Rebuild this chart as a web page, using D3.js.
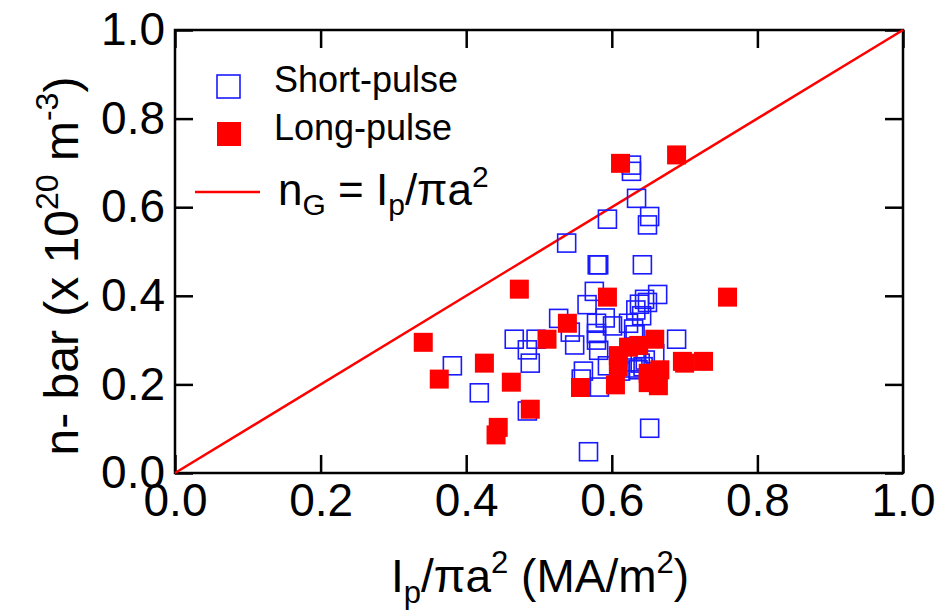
<!DOCTYPE html>
<html>
<head>
<meta charset="utf-8">
<script src="https://cdn.jsdelivr.net/npm/d3@7"></script>
<style>
  html, body { margin: 0; padding: 0; background: #fff; }
  svg { display: block; }
  text { font-family: "Liberation Sans", Arial, Helvetica, sans-serif; fill: #000; }
</style>
</head>
<body>
<svg id="chart" width="940" height="613"></svg>
<script>
// ---- data ----
const shortX = [0.381,0.418,0.466,0.496,0.484,0.488,0.484,0.527,0.538,0.549,0.568,0.652,
  0.627,0.627,0.634,0.652,0.649,0.594,0.580,0.582,0.642,0.576,0.566,0.663,0.645,0.649,
  0.638,0.633,0.591,0.623,0.641,0.601,0.543,0.579,0.579,0.582,0.630,0.689,0.632,0.579,
  0.561,0.558,0.583,0.594,0.612,0.632,0.639,0.643,0.636,0.646,0.629,0.659];
const shortY = [0.242,0.181,0.302,0.302,0.278,0.248,0.140,0.349,0.519,0.289,0.048,0.101,
  0.695,0.681,0.620,0.579,0.560,0.573,0.470,0.470,0.470,0.410,0.380,0.403,0.392,0.385,
  0.381,0.368,0.350,0.338,0.355,0.332,0.318,0.315,0.300,0.277,0.325,0.302,0.312,0.338,
  0.230,0.212,0.194,0.242,0.230,0.251,0.248,0.240,0.233,0.255,0.237,0.269];
const longX = [0.341,0.363,0.425,0.462,0.488,0.444,0.441,0.473,0.511,0.539,0.557,0.612,
  0.689,0.594,0.759,0.659,0.637,0.623,0.609,0.609,0.605,0.666,0.650,0.650,0.664,0.697,
  0.700,0.726];
const longY = [0.295,0.212,0.248,0.205,0.144,0.103,0.086,0.415,0.302,0.338,0.193,0.699,
  0.718,0.397,0.397,0.302,0.288,0.284,0.265,0.240,0.199,0.233,0.225,0.204,0.197,0.252,
  0.248,0.252];
const xTicks = [0.0,0.2,0.4,0.6,0.8,1.0];
const yTicks = [0.0,0.2,0.4,0.6,0.8,1.0];
const greenwald = [[0,0],[1,1]];

// ---- layout ----
const L = 175, R = 903, T = 30, B = 473;
const svg = d3.select("#chart");
const x = d3.scaleLinear().domain([0,1]).range([L,R]);
const y = d3.scaleLinear().domain([0,1]).range([B,T]);
const tickLen = 18, fs = 46;

// axes
const fmt = d3.format(".1f");
const gx = svg.append("g").attr("transform",`translate(0,${B})`)
  .call(d3.axisBottom(x).tickValues(xTicks).tickSizeInner(-tickLen).tickSizeOuter(0).tickPadding(10).tickFormat(fmt));
const gy = svg.append("g").attr("transform",`translate(${L},0)`)
  .call(d3.axisLeft(y).tickValues(yTicks).tickSizeInner(-tickLen).tickSizeOuter(0).tickPadding(10).tickFormat(fmt));
const gt = svg.append("g").attr("transform",`translate(0,${T})`)
  .call(d3.axisTop(x).tickValues(xTicks).tickSizeInner(-tickLen).tickSizeOuter(0).tickFormat(""));
const gr = svg.append("g").attr("transform",`translate(${R},0)`)
  .call(d3.axisRight(y).tickValues(yTicks).tickSizeInner(-tickLen).tickSizeOuter(0).tickFormat(""));
[gx,gy,gt,gr].forEach(g => {
  g.select(".domain").remove();
  g.selectAll(".tick line").attr("stroke","#000").attr("stroke-width",2.5);
  g.selectAll("text").style("font-size", fs+"px").attr("fill","#000");
});

// frame
svg.append("rect").attr("x",L).attr("y",T).attr("width",R-L).attr("height",B-T)
  .attr("fill","none").attr("stroke","#000").attr("stroke-width",2.5);

// Greenwald line
svg.append("path").datum(greenwald)
  .attr("d", d3.line().x(d=>x(d[0])).y(d=>y(d[1])))
  .attr("stroke","#ff0000").attr("stroke-width",2.5).attr("fill","none");

// markers
const ms = 18;
const shortData = shortX.map((v,i)=>[v,shortY[i]]);
const longData = longX.map((v,i)=>[v,longY[i]]);
svg.append("g").selectAll("rect").data(shortData).join("rect")
  .attr("x",d=>x(d[0])-ms/2).attr("y",d=>y(d[1])-ms/2)
  .attr("width",ms).attr("height",ms)
  .attr("fill","none").attr("stroke","#1a1aff").attr("stroke-width",1.6);
const ml = 19;
svg.append("g").selectAll("rect").data(longData).join("rect")
  .attr("x",d=>x(d[0])-ml/2).attr("y",d=>y(d[1])-ml/2)
  .attr("width",ml).attr("height",ml)
  .attr("fill","#ff0000");

// legend
const lg = svg.append("g");
lg.append("rect").attr("x",217).attr("y",75).attr("width",23).attr("height",23)
  .attr("fill","none").attr("stroke","#1a1aff").attr("stroke-width",1.6);
lg.append("text").attr("x",274).attr("y",92).style("font-size","36px").text("Short-pulse");
lg.append("rect").attr("x",217).attr("y",122).attr("width",24).attr("height",24)
  .attr("fill","#ff0000");
lg.append("text").attr("x",274).attr("y",140).style("font-size","36px").text("Long-pulse");
lg.append("line").attr("x1",195).attr("x2",260).attr("y1",192).attr("y2",192)
  .attr("stroke","#ff0000").attr("stroke-width",2.5);
const ng = lg.append("text").attr("x",278).attr("y",205).style("font-size","44px");
ng.append("tspan").text("n");
ng.append("tspan").attr("dy",10).style("font-size","30px").text("G");
ng.append("tspan").attr("dy",-10).text(" = I");
ng.append("tspan").attr("dy",10).style("font-size","30px").text("p");
ng.append("tspan").attr("dy",-10).text("/\u03c0a");
ng.append("tspan").attr("dy",-18).style("font-size","30px").text("2");

// x title
const xt = svg.append("text").attr("x",540).attr("y",592).attr("text-anchor","middle").style("font-size","46px");
xt.append("tspan").text("I");
xt.append("tspan").attr("dy",11).style("font-size","31px").text("p");
xt.append("tspan").attr("dy",-11).text("/\u03c0a");
xt.append("tspan").attr("dy",-19).style("font-size","31px").text("2");
xt.append("tspan").attr("dy",19).text(" (MA/m");
xt.append("tspan").attr("dy",-19).style("font-size","31px").text("2");
xt.append("tspan").attr("dy",19).text(")");

// y title
const yt = svg.append("text").attr("transform","translate(78,266) rotate(-90)")
  .attr("text-anchor","middle").style("font-size","48px");
yt.append("tspan").text("n- bar (x 10");
yt.append("tspan").attr("dy",-20).style("font-size","32px").text("20");
yt.append("tspan").attr("dy",20).text(" m");
yt.append("tspan").attr("dy",-20).style("font-size","32px").text("-3");
yt.append("tspan").attr("dy",20).text(")");
</script>
</body>
</html>
